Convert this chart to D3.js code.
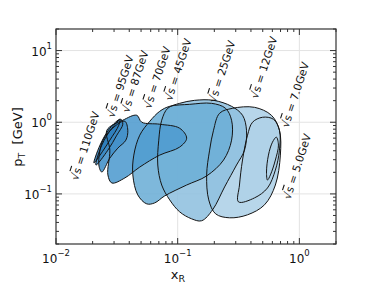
<!DOCTYPE html>
<html><head><meta charset="utf-8">
<script src="https://cdn.jsdelivr.net/npm/d3@7/dist/d3.min.js"></script>
<style>body{margin:0;background:#fff}svg{display:block}text{font-family:"DejaVu Sans",sans-serif}</style>
</head><body>
<script>
const energies = ["5.0","7.0","12","25","45","70","87","95","110"];
const fills = ["#c6dbef","#bfd8ed","#add0e7","#8fc0df","#6caed6","#4f9bcf","#4190c8","#3987c2","#2d7dbb"];
const shape5 = [[0.647,0.619],[0.673,0.480],[0.635,0.297],[0.578,0.184],[0.547,0.156],[0.537,0.202],[0.557,0.348],[0.601,0.527]];
const shape7 = [[0.412,1.0],[0.498,1.173],[0.612,1.101],[0.686,0.774],[0.686,0.408],[0.635,0.215],[0.547,0.121],[0.428,0.088],[0.316,0.0774],[0.322,0.133],[0.341,0.297],[0.375,0.660]];
const shape12 = [[0.221,1.334],[0.2825,1.564],[0.428,1.615],[0.589,1.251],[0.686,0.774],[0.698,0.348],[0.635,0.133],[0.517,0.0704],[0.375,0.0511],[0.267,0.0464],[0.205,0.0527],[0.180,0.0825],[0.173,0.184],[0.183,0.408],[0.197,0.774]];
const shape25 = [[0.0828,1.564],[0.1038,1.836],[0.1378,2.021],[0.1972,2.021],[0.2773,1.668],[0.3412,1.251],[0.3678,0.774],[0.3542,0.408],[0.3045,0.253],[0.2429,0.125],[0.1936,0.060],[0.1573,0.0422],[0.1302,0.0449],[0.1038,0.0562],[0.086,0.0825],[0.0739,0.133],[0.0686,0.253],[0.0699,0.562],[0.0739,1.066]];
const shape45 = [[0.059,1.032],[0.0712,1.421],[0.086,1.668],[0.1254,1.778],[0.19,1.836],[0.2474,1.564],[0.2773,1.066],[0.2773,0.562],[0.2383,0.297],[0.1729,0.178],[0.1185,0.133],[0.0782,0.0938],[0.0648,0.075],[0.0557,0.0726],[0.047,0.0968],[0.0428,0.184],[0.0436,0.348],[0.0488,0.660]];
const shape70 = [[0.0262,0.774],[0.0354,1.066],[0.0461,1.251],[0.0507,1.0],[0.0712,0.938],[0.1038,0.825],[0.1185,0.599],[0.1038,0.450],[0.0712,0.348],[0.0488,0.237],[0.0368,0.167],[0.0288,0.142],[0.0267,0.184],[0.0277,0.408]];
const shape87 = [[0.0243,0.562],[0.0305,0.880],[0.0368,1.032],[0.0389,0.774],[0.0375,0.562],[0.0322,0.435],[0.0277,0.316],[0.0238,0.202],[0.0225,0.253]];
const shape95 = [[0.0213,0.253],[0.0238,0.480],[0.0288,0.825],[0.0341,1.101],[0.0354,0.938],[0.0316,0.660],[0.0267,0.408]];
const shape110 = [[0.0205,0.270],[0.023,0.480],[0.0277,0.825],[0.0335,1.101],[0.0328,0.908],[0.0277,0.562],[0.023,0.348]];
const shapes = [shape5,shape7,shape12,shape25,shape45,shape70,shape87,shape95,shape110];
const labelPos = [[0.843,0.0825],[0.812,0.825],[0.453,2.086],[0.205,1.836],[0.0893,1.957],[0.0601,1.516],[0.0396,1.334],[0.0299,1.137],[0.0151,0.1516]];
const xTicks = [0.01,0.1,1];
const yTicks = [0.1,1,10];

const W=374,H=288, L=56,R=336,T=29,B=244;
const x = d3.scaleLog().domain([0.01,2]).range([L,R]);
const y = d3.scaleLog().domain([0.02,20]).range([B,T]);
const svg = d3.select("body").append("svg").attr("width",W).attr("height",H);

const g = svg.append("g");
xTicks.forEach(t=>{ if(x(t)>L+1) g.append("line").attr("x1",x(t)).attr("x2",x(t)).attr("y1",T).attr("y2",B).attr("stroke","#e3e3e3").attr("stroke-width",1);});
yTicks.forEach(t=>{ g.append("line").attr("y1",y(t)).attr("y2",y(t)).attr("x1",L).attr("x2",R).attr("stroke","#e3e3e3").attr("stroke-width",1);});

const line = d3.line().x(d=>x(d[0])).y(d=>y(d[1])).curve(d3.curveCatmullRomClosed.alpha(0.5));
svg.append("clipPath").attr("id","c").append("rect").attr("x",L).attr("y",T).attr("width",R-L).attr("height",B-T);
const sg = svg.append("g").attr("clip-path","url(#c)");
shapes.forEach((s,i)=>{
  sg.append("path").attr("d",line(s)).attr("fill",fills[i]).attr("fill-opacity",0.88).attr("stroke","none");
});
shapes.forEach((s,i)=>{
  sg.append("path").attr("d",line(s)).attr("fill","none").attr("stroke","#141414").attr("stroke-width",1);
});

energies.forEach((e,i)=>{
  const p = labelPos[i];
  const t = svg.append("text").attr("transform",`translate(${x(p[0])},${y(p[1])}) rotate(-72)`).attr("font-size",10.8).attr("fill","#111");
  t.append("tspan").text("√");
  t.append("tspan").attr("text-decoration","overline").text("s");
  t.append("tspan").text(" = "+e+"GeV");
});

const ax = svg.append("g").attr("stroke","#333");
ax.append("rect").attr("x",L).attr("y",T).attr("width",R-L).attr("height",B-T).attr("fill","none").attr("stroke-width",1.2);
const xMinor=[], yMinor=[];
for(let dec=-2;dec<=0;dec++) for(let k=2;k<=9;k++){const v=k*Math.pow(10,dec); if(v<=2) xMinor.push(v);}
for(let dec=-2;dec<=1;dec++) for(let k=2;k<=9;k++){const v=k*Math.pow(10,dec); if(v>=0.02&&v<=20) yMinor.push(v);}
xTicks.forEach(t=>{ax.append("line").attr("x1",x(t)).attr("x2",x(t)).attr("y1",B).attr("y2",B-6);ax.append("line").attr("x1",x(t)).attr("x2",x(t)).attr("y1",T).attr("y2",T+6);});
xMinor.forEach(t=>{ax.append("line").attr("x1",x(t)).attr("x2",x(t)).attr("y1",B).attr("y2",B-3);ax.append("line").attr("x1",x(t)).attr("x2",x(t)).attr("y1",T).attr("y2",T+3);});
yTicks.forEach(t=>{ax.append("line").attr("y1",y(t)).attr("y2",y(t)).attr("x1",L).attr("x2",L+6);ax.append("line").attr("y1",y(t)).attr("y2",y(t)).attr("x1",R).attr("x2",R-6);});
yMinor.forEach(t=>{ax.append("line").attr("y1",y(t)).attr("y2",y(t)).attr("x1",L).attr("x2",L+3);ax.append("line").attr("y1",y(t)).attr("y2",y(t)).attr("x1",R).attr("x2",R-3);});

const expo = v=>Math.round(Math.log10(v));
xTicks.forEach(t=>{
  const tx = svg.append("text").attr("x",x(t)).attr("y",263).attr("text-anchor","middle").attr("font-size",12).attr("fill","#111");
  tx.append("tspan").text("10");
  tx.append("tspan").attr("dy",-7).attr("font-size",8.5).text(expo(t)<0?"\u2212"+(-expo(t)):expo(t));
});
yTicks.forEach(t=>{
  const tx = svg.append("text").attr("x",52).attr("y",y(t)+5).attr("text-anchor","end").attr("font-size",12).attr("fill","#111");
  tx.append("tspan").text("10");
  tx.append("tspan").attr("dy",-7).attr("font-size",8.5).text(expo(t)<0?"\u2212"+(-expo(t)):expo(t));
});

const xl = svg.append("text").attr("x",178).attr("y",279).attr("text-anchor","middle").attr("font-size",13).attr("fill","#111");
xl.append("tspan").text("x");
xl.append("tspan").attr("font-size",9.5).attr("dy",3).text("R");
const yl = svg.append("text").attr("transform","translate(22,137) rotate(-90)").attr("text-anchor","middle").attr("font-size",13).attr("fill","#111");
yl.append("tspan").text("p");
yl.append("tspan").attr("font-size",9.5).attr("dy",3).text("T");
yl.append("tspan").attr("dy",-3).text("\u00a0\u00a0[GeV]");
</script>
</body></html>
